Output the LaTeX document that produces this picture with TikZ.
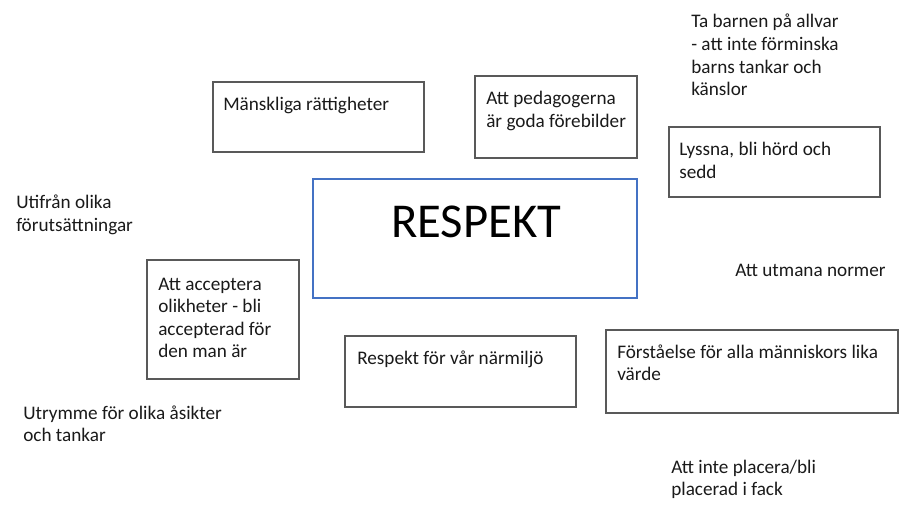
\documentclass[tikz,border=0pt]{standalone}
\usepackage{fontspec}
\setmainfont{Carlito}
\usetikzlibrary{fit}
\definecolor{boxgray}{HTML}{595959}
\definecolor{respblue}{HTML}{4472C4}
\definecolor{txtcol}{HTML}{1A1A1A}
\newcommand{\lines}[1]{\begin{tabular}[t]{@{}l@{}}#1\end{tabular}}
\begin{document}
\begin{tikzpicture}[x=0.75pt,y=-0.75pt,
  box/.style={draw=boxgray, line width=1pt, inner sep=0pt},
  txt/.style={anchor=base west, inner sep=0pt, text=txtcol,
    font=\fontsize{14.4}{16.9}\selectfont}]
\fill[white] (0,0) rectangle (899,506);
\useasboundingbox (0,0) rectangle (899,506);
% boxes
\node[box, fit={(213,82) (424,152)}] (b1) {};
\node[box, fit={(475,76) (637,158)}] (b2) {};
\node[box, draw=respblue, fit={(313,179) (637,298)}] (b3) {};
\node[box, fit={(669,127) (880,197)}] (b4) {};
\node[box, fit={(147,260) (299,379)}] (b5) {};
\node[box, fit={(345,336) (576,407)}] (b6) {};
\node[box, fit={(606,330) (898,413)}] (b7) {};
% texts
\node[txt] (t1) at (223,111) {\lines{Mänskliga rättigheter}};
\node[txt] (t2) at (486,105) {\lines{Att pedagogerna\\är goda förebilder}};
\node[anchor=base, inner sep=0pt, text=black, font=\fontsize{36.5}{40}\selectfont] (t3) at (476,237) {RESPEKT};
\node[txt] (t4) at (679,156) {\lines{Lyssna, bli hörd och\\sedd}};
\node[txt] (t5) at (158,290) {\lines{Att acceptera\\olikheter - bli\\accepterad för\\den man är}};
\node[txt] (t6) at (357,364) {\lines{Respekt för vår närmiljö}};
\node[txt] (t7) at (617,358) {\lines{Förståelse för alla människors lika\\värde}};
\node[txt] (t8) at (691,28) {\lines{Ta barnen på allvar\\- att inte förminska\\barns tankar och\\känslor}};
\node[txt] (t9) at (735,276) {\lines{Att utmana normer}};
\node[txt] (t10) at (16,209) {\lines{Utifrån olika\\förutsättningar}};
\node[txt] (t11) at (23,419) {\lines{Utrymme för olika åsikter\\och tankar}};
\node[txt] (t12) at (671,473) {\lines{Att inte placera/bli\\placerad i fack}};
\end{tikzpicture}
\end{document}
